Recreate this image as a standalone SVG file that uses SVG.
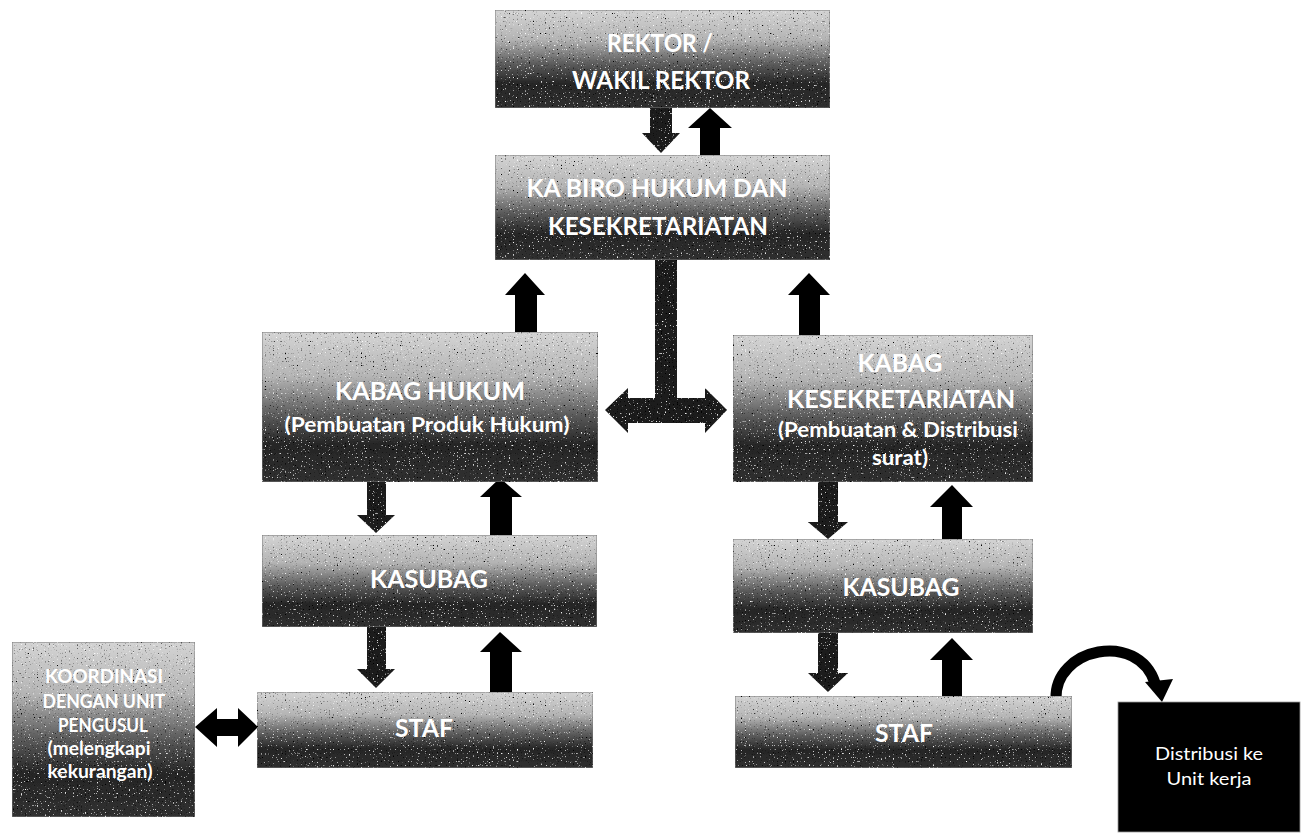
<svg xmlns="http://www.w3.org/2000/svg" width="1307" height="835" viewBox="0 0 1307 835">
  <defs>
    <!-- light-to-dark fill used by every process box -->
    <linearGradient id="boxFill" x1="0" y1="0" x2="0" y2="1">
      <stop offset="0" stop-color="#d4d4d4"/>
      <stop offset="0.3" stop-color="#b4b4b4"/>
      <stop offset="0.55" stop-color="#5c5c5c"/>
      <stop offset="0.75" stop-color="#262626"/>
      <stop offset="1" stop-color="#303030"/>
    </linearGradient>
    <!-- speckled print texture for the boxes and dark arrows -->
    <filter id="grain" x="0" y="0" width="1" height="1">
      <feTurbulence type="fractalNoise" baseFrequency="0.75" numOctaves="1" seed="7" result="noise"/>
      <feColorMatrix in="noise" type="matrix" values="0 0 0 0 1  0 0 0 0 1  0 0 0 0 1  7 0 0 0 -4.6" result="light"/>
      <feColorMatrix in="noise" type="matrix" values="0 0 0 0 0  0 0 0 0 0  0 0 0 0 0  0 -7 0 0 2.6" result="dark"/>
      <feComposite in="light" in2="SourceGraphic" operator="in" result="lightIn"/>
      <feComposite in="dark" in2="SourceGraphic" operator="in" result="darkIn"/>
      <feMerge>
        <feMergeNode in="SourceGraphic"/>
        <feMergeNode in="darkIn"/>
        <feMergeNode in="lightIn"/>
      </feMerge>
    </filter>
  </defs>
  <style>
    .box { fill: url(#boxFill); stroke: #7a7a7a; stroke-width: 1; filter: url(#grain); }
    .dark { fill: #000; stroke: #999; stroke-width: 0.8; }
    .lbl { font-family: Lato, "Open Sans", "Liberation Sans", sans-serif; font-weight: bold; fill: #fff; text-anchor: middle; lengthAdjust: spacingAndGlyphs; }
    .big { font-size: 24px; }
    .mid { font-size: 21px; }
    .sm { font-size: 18px; }
    .plain { font-family: Lato, "Open Sans", "Liberation Sans", sans-serif; font-size: 18px; fill: #fff; text-anchor: middle; }
    .down { fill: #1c1c1c; filter: url(#grain); }
    .up { fill: #000; }
    .curve { fill: none; stroke: #000; stroke-width: 11; }
  </style>

  <rect width="1307" height="835" fill="#fff"/>

  <!-- connectors -->
  <g id="connectors">
    <!-- rektor <-> ka biro -->
    <polygon class="down" points="650,108 672,108 672,133 680,133 661,153 642,133 650,133"/>
    <polygon class="up" points="710,108 732,128 720,128 720,155 700,155 700,128 688,128"/>
    <!-- kabag -> ka biro -->
    <polygon class="up" points="525,273 545,295 537,295 537,332 515,332 515,295 505,295"/>
    <polygon class="up" points="809,273 830,295 820,295 820,335 799,335 799,295 788,295"/>
    <!-- ka biro -> both kabag (T-shaped double arrow) -->
    <polygon class="down" points="605,410 628,388 628,398 655,398 655,260 677,260 677,398 705,398 705,388 727,410 705,433 705,423 628,423 628,433"/>
    <!-- left column -->
    <polygon class="down" points="367,482 386,482 386,515 395,515 376,533 357,515 367,515"/>
    <polygon class="up" points="500,478 522,497 512,497 512,535 490,535 490,497 480,497"/>
    <polygon class="down" points="367,627 386,627 386,669 395,669 376,688 357,669 367,669"/>
    <polygon class="up" points="500,632 522,652 512,652 512,692 490,692 490,652 480,652"/>
    <!-- right column -->
    <polygon class="down" points="818,482 838,482 838,522 848,522 828,539 808,522 818,522"/>
    <polygon class="up" points="952,485 973,507 962,507 962,539 942,539 942,507 930,507"/>
    <polygon class="down" points="818,633 838,633 838,673 848,673 828,692 808,673 818,673"/>
    <polygon class="up" points="952,638 973,660 962,660 962,696 942,696 942,660 930,660"/>
    <!-- koordinasi <-> staf -->
    <polygon class="up" points="195,727 217,708 217,719 238,719 238,708 258,727 238,747 238,736 217,736 217,747"/>
    <!-- staf -> distribusi -->
    <path class="curve" d="M1056,699 C1054,648 1138,630 1155,683"/>
    <polygon class="up" points="1145,682 1173,679 1162,702"/>
  </g>

  <g id="rektor">
    <rect class="box" x="495" y="10" width="335" height="98"/>
    <text class="lbl big" x="660" y="52" textLength="106" lengthAdjust="spacingAndGlyphs">REKTOR /</text>
    <text class="lbl big" x="661" y="89" textLength="178" lengthAdjust="spacingAndGlyphs">WAKIL REKTOR</text>
  </g>

  <g id="ka-biro">
    <rect class="box" x="495" y="155" width="335" height="105"/>
    <text class="lbl big" x="657" y="197" textLength="261" lengthAdjust="spacingAndGlyphs">KA BIRO HUKUM DAN</text>
    <text class="lbl big" x="658" y="235" textLength="220" lengthAdjust="spacingAndGlyphs">KESEKRETARIATAN</text>
  </g>

  <g id="kabag-hukum">
    <rect class="box" x="262" y="332" width="336" height="150"/>
    <text class="lbl big" x="430" y="400" textLength="190" lengthAdjust="spacingAndGlyphs">KABAG HUKUM</text>
    <text class="lbl mid" x="427" y="432" textLength="285" lengthAdjust="spacingAndGlyphs">(Pembuatan Produk Hukum)</text>
  </g>

  <g id="kabag-kesekretariatan">
    <rect class="box" x="733" y="335" width="300" height="147"/>
    <text class="lbl big" x="900" y="372" textLength="85" lengthAdjust="spacingAndGlyphs">KABAG</text>
    <text class="lbl big" x="901" y="408" textLength="228" lengthAdjust="spacingAndGlyphs">KESEKRETARIATAN</text>
    <text class="lbl mid" x="898" y="437" textLength="240" lengthAdjust="spacingAndGlyphs">(Pembuatan &amp; Distribusi</text>
    <text class="lbl mid" x="900" y="465" textLength="56" lengthAdjust="spacingAndGlyphs">surat)</text>
  </g>

  <g id="kasubag-hukum">
    <rect class="box" x="262" y="535" width="335" height="92"/>
    <text class="lbl big" x="429" y="588" textLength="118" lengthAdjust="spacingAndGlyphs">KASUBAG</text>
  </g>

  <g id="kasubag-kesekretariatan">
    <rect class="box" x="733" y="539" width="300" height="94"/>
    <text class="lbl big" x="901" y="596" textLength="117" lengthAdjust="spacingAndGlyphs">KASUBAG</text>
  </g>

  <g id="staf-hukum">
    <rect class="box" x="257" y="692" width="336" height="76"/>
    <text class="lbl big" x="424" y="737" textLength="58" lengthAdjust="spacingAndGlyphs">STAF</text>
  </g>

  <g id="staf-kesekretariatan">
    <rect class="box" x="735" y="696" width="337" height="72"/>
    <text class="lbl big" x="904" y="742" textLength="58" lengthAdjust="spacingAndGlyphs">STAF</text>
  </g>

  <g id="koordinasi">
    <rect class="box" x="12" y="642" width="183" height="175"/>
    <text class="lbl sm" x="104" y="683" textLength="118" lengthAdjust="spacingAndGlyphs">KOORDINASI</text>
    <text class="lbl sm" x="104" y="708" textLength="123" lengthAdjust="spacingAndGlyphs">DENGAN UNIT</text>
    <text class="lbl sm" x="103" y="732" textLength="90" lengthAdjust="spacingAndGlyphs">PENGUSUL</text>
    <text class="lbl sm" x="99" y="755" textLength="103" lengthAdjust="spacingAndGlyphs">(melengkapi</text>
    <text class="lbl sm" x="100" y="778" textLength="105" lengthAdjust="spacingAndGlyphs">kekurangan)</text>
  </g>

  <g id="distribusi">
    <rect class="dark" x="1118" y="702" width="182" height="130"/>
    <text class="plain" x="1209" y="760" textLength="108" lengthAdjust="spacingAndGlyphs">Distribusi ke</text>
    <text class="plain" x="1209" y="785" textLength="85" lengthAdjust="spacingAndGlyphs">Unit kerja</text>
  </g>
</svg>
